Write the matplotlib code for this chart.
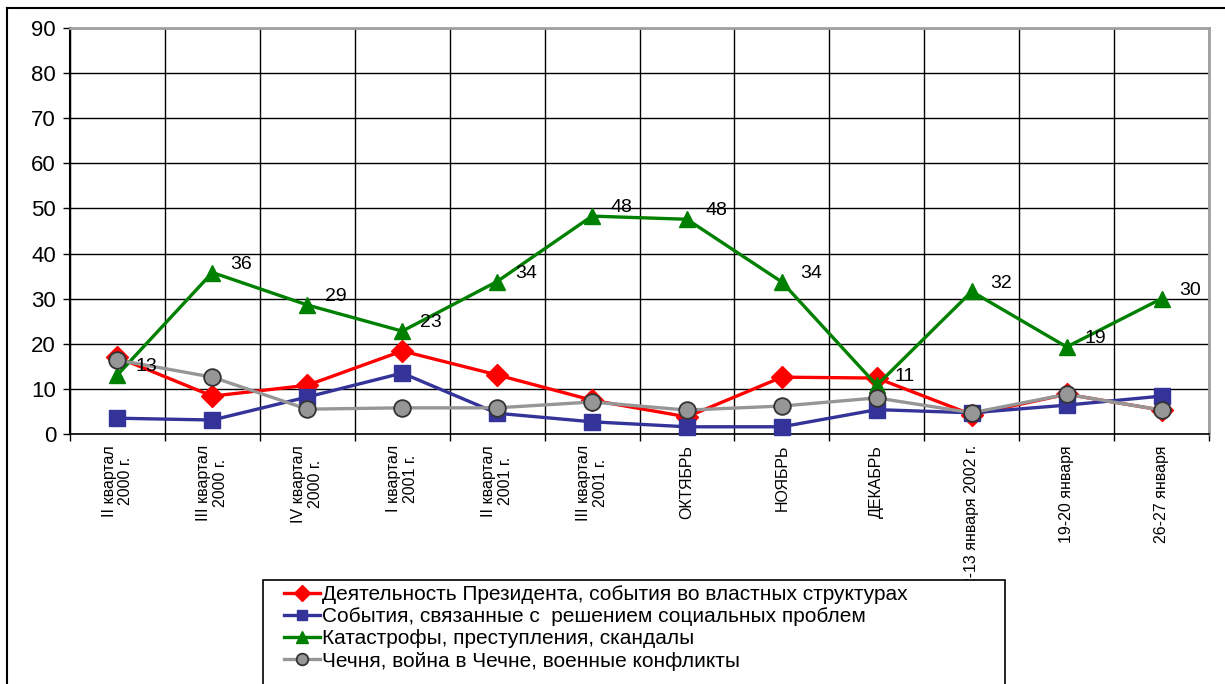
import numpy as np
import matplotlib
matplotlib.use("Agg")
from matplotlib import pyplot as plt
from matplotlib.lines import Line2D
from matplotlib.patches import Rectangle

plt.rcParams['font.family'] = ['Liberation Sans', 'DejaVu Sans']

# Data ===================================================================================
categories = ["II квартал\n2000 г.", "III квартал\n2000 г.", "IV квартал\n2000 г.",
              "I квартал\n2001 г.", "II квартал\n2001 г.", "III квартал\n2001 г.",
              "ОКТЯБРЬ", "НОЯБРЬ", "ДЕКАБРЬ", "12-13 января 2002 г.",
              "19-20 января", "26-27 января"]

president = [17.0, 8.4, 10.8, 18.4, 13.1, 7.5, 3.8, 12.6, 12.4, 4.3, 8.8, 5.3]
social    = [3.5, 3.1, 8.2, 13.5, 4.6, 2.7, 1.6, 1.6, 5.4, 4.7, 6.4, 8.4]
crime     = [13.1, 35.8, 28.6, 22.8, 33.8, 48.3, 47.6, 33.7, 10.8, 31.6, 19.3, 30.0]
chechnya  = [16.4, 12.6, 5.5, 5.8, 5.8, 7.1, 5.3, 6.2, 8.0, 4.7, 8.8, 5.3]

series_names = ["Деятельность Президента, события во властных структурах",
                "События, связанные с  решением социальных проблем",
                "Катастрофы, преступления, скандалы",
                "Чечня, война в Чечне, военные конфликты"]

# Figure =================================================================================
W, H = 1225, 684
fig = plt.figure(figsize=(W / 100, H / 100), dpi=100)
ax = fig.add_axes([70 / W, 1 - 434 / H, (1209 - 70) / W, (434 - 28) / H])

x = np.arange(len(categories)) + 0.5

styles = [
    dict(color="#FF0000", marker="D", ms=11, mfc="#FF0000", mec="#FF0000"),
    dict(color="#333399", marker="s", ms=11, mfc="#333399", mec="#333399"),
    dict(color="#008000", marker="^", ms=12, mfc="#008000", mec="#008000"),
    dict(color="#969696", marker="o", ms=12, mfc="#969696", mec="#333333", mew=1.3),
]
handles = []
for vals, st in zip([president, social, crime, chechnya], styles):
    h, = ax.plot(x, vals, lw=2.4, zorder=3, clip_on=False, **st)
    handles.append(h)

# value labels on the green series
for xi, v in zip(x, crime):
    ax.annotate("%d" % round(v), (xi, v), xytext=(13, 6), textcoords="offset points",
                ha="left", va="center", fontsize=14, zorder=4)

# Axes -------------------------------------------------------------------------------------
ax.set_xlim(0, len(categories))
ax.set_ylim(0, 90)
ax.set_yticks(np.arange(0, 91, 10))
ax.tick_params(axis="y", labelsize=16, direction="out", length=5, width=1, pad=5)

ax.set_xticks(np.arange(len(categories) + 1))
ax.set_xticklabels([])
ax.tick_params(axis="x", which="major", direction="out", length=5, width=1)
ax.set_xticks(x, minor=True)
ax.set_xticklabels(categories, minor=True, rotation=90, fontsize=11.5,
                   va="top", ha="center", linespacing=1.15)
ax.tick_params(axis="x", which="minor", length=0, pad=8)

ax.grid(True, which="major", color="black", lw=1)
ax.set_axisbelow(True)
for s in ["top", "right"]:
    ax.spines[s].set_color("#A0A0A0")
    ax.spines[s].set_linewidth(2)
ax.spines["left"].set_linewidth(1.5)
ax.spines["bottom"].set_linewidth(1.2)

# Outer chart frame (only left and top visible) -------------------------------------------
fig.add_artist(Line2D([7 / W, 7 / W], [0, 1 - 8 / H], transform=fig.transFigure,
                      color="black", lw=1.5))
fig.add_artist(Line2D([7 / W, 1], [1 - 8 / H, 1 - 8 / H], transform=fig.transFigure,
                      color="black", lw=1.5))

# Legend box runs past the bottom of the picture
fig.add_artist(Rectangle((263 / W, -0.1), (1005 - 263) / W, (1 - 580 / H) + 0.1,
                         transform=fig.transFigure, facecolor="white",
                         edgecolor="black", lw=1.2, zorder=5))
leg = fig.legend(handles, series_names, loc="upper left",
                 bbox_to_anchor=(280 / W, 1 - 581 / H), frameon=False,
                 prop=dict(size=15), handlelength=1.7, handletextpad=0.1,
                 labelspacing=0.15, borderaxespad=0, borderpad=0.2, markerscale=0.7)
leg.set_zorder(6)

fig.savefig("out.png", dpi=100)
